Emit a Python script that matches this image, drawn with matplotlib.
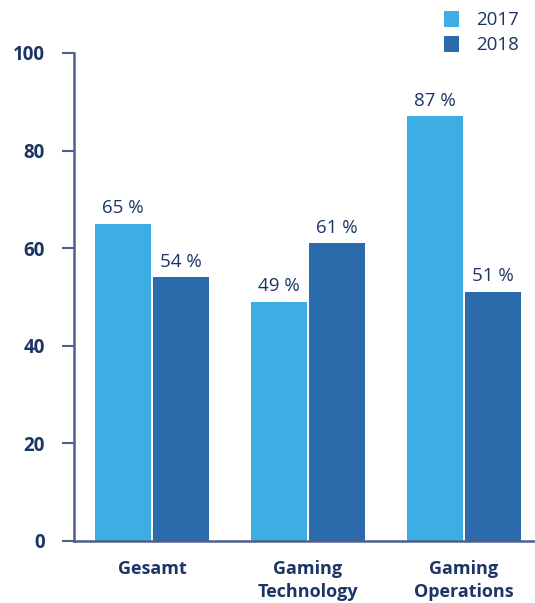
import matplotlib.pyplot as plt
import numpy as np

categories = ['Gesamt', 'Gaming\nTechnology', 'Gaming\nOperations']
vals_2017 = [65, 49, 87]
vals_2018 = [54, 61, 51]
years = ['2017', '2018']

c17 = '#3daee3'
c18 = '#2b6bab'
txt = '#1b3566'
spine = '#4f5f8c'

plt.rcParams['font.family'] = ['Open Sans', 'DejaVu Sans']

fig = plt.figure(figsize=(5.35, 6.03), dpi=100)
ax = fig.add_axes([74/535, 1 - 541/603, (535-74)/535, (541-53)/603])

x = np.arange(len(categories))
w = 0.359
off = w/2 + 0.0065
b1 = ax.bar(x - off, vals_2017, w, color=c17, label=years[0])
b2 = ax.bar(x + off, vals_2018, w, color=c18, label=years[1])

for bars in (b1, b2):
    for r in bars:
        ax.text(r.get_x() + r.get_width()/2, r.get_height() + 2.2, f'{int(r.get_height())} %',
                ha='center', va='baseline', fontsize=13.5, color=txt)

ax.set_xlim(-0.5, 2.455)
ax.set_ylim(0, 100)
ax.set_yticks([0, 20, 40, 60, 80, 100])
ax.set_yticklabels(['0', '20', '40', '60', '80', '100'], fontweight='bold', fontsize=13.5, color=txt)
ax.set_xticks(x)
ax.set_xticklabels(categories, fontweight='bold', fontsize=13, color=txt, linespacing=1.35, va='top')
ax.tick_params(axis='x', length=0, pad=14)
ax.tick_params(axis='y', length=9, width=1.5, color=spine, pad=12)
for s in ['top', 'right']:
    ax.spines[s].set_visible(False)
for s in ['left', 'bottom']:
    ax.spines[s].set_color(spine)
    ax.spines[s].set_linewidth(1.8)

fig.legend(handles=[b1, b2], labels=years, loc='upper left', bbox_to_anchor=(436/535, 1 - 3/603),
           frameon=False, fontsize=13.5, labelcolor=txt, handlelength=0.85, handleheight=0.95,
           handletextpad=0.9, labelspacing=0.35, borderaxespad=0)

fig.savefig('out.png', dpi=100)
